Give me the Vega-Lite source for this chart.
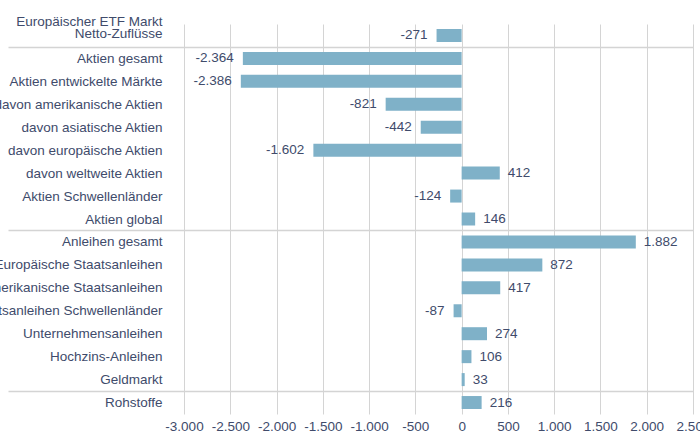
{
  "$schema": "https://vega.github.io/schema/vega-lite/v6.json",
  "width": 509,
  "height": 390,
  "autosize": {"type": "none"},
  "padding": {"left": 184, "top": 24, "right": 7, "bottom": 18},
  "data": {
    "values": [
      {"kategorie": "Europäischer ETF Markt Netto-Zuflüsse", "wert": -271},
      {"kategorie": "Aktien gesamt", "wert": -2364},
      {"kategorie": "Aktien entwickelte Märkte", "wert": -2386},
      {"kategorie": "davon amerikanische Aktien", "wert": -821},
      {"kategorie": "davon asiatische Aktien", "wert": -442},
      {"kategorie": "davon europäische Aktien", "wert": -1602},
      {"kategorie": "davon weltweite Aktien", "wert": 412},
      {"kategorie": "Aktien Schwellenländer", "wert": -124},
      {"kategorie": "Aktien global", "wert": 146},
      {"kategorie": "Anleihen gesamt", "wert": 1882},
      {"kategorie": "Europäische Staatsanleihen", "wert": 872},
      {"kategorie": "Amerikanische Staatsanleihen", "wert": 417},
      {"kategorie": "Staatsanleihen Schwellenländer", "wert": -87},
      {"kategorie": "Unternehmensanleihen", "wert": 274},
      {"kategorie": "Hochzins-Anleihen", "wert": 106},
      {"kategorie": "Geldmarkt", "wert": 33},
      {"kategorie": "Rohstoffe", "wert": 216}
    ]
  },
  "encoding": {
    "y": {
      "field": "kategorie",
      "type": "nominal",
      "sort": null,
      "scale": {"paddingInner": 0, "paddingOuter": 0},
      "axis": {
        "title": null,
        "domain": false,
        "ticks": true,
        "tickBand": "extent",
        "tickSize": 176,
        "tickColor": "#d4d4d4",
        "tickWidth": 1.5,
        "tickOpacity": {"condition": {"test": "indexof(['Europäischer ETF Markt Netto-Zuflüsse','Aktien global','Geldmarkt'], datum.value) >= 0", "value": 1}, "value": 0},
        "grid": true,
        "gridColor": "#d4d4d4",
        "gridWidth": 1.5,
        "gridOpacity": {"condition": {"test": "indexof(['Europäischer ETF Markt Netto-Zuflüsse','Aktien global','Geldmarkt'], datum.value) >= 0", "value": 1}, "value": 0},
        "labelPadding": -154,
        "labelFont": "Liberation Sans",
        "labelFontSize": 13.5,
        "labelColor": "#404b6b",
        "labelLimit": 400,
        "labelOverlap": false,
        "labelLineHeight": 12.5,
        "labelOffset": {"condition": {"test": "datum.value === 'Europäischer ETF Markt Netto-Zuflüsse'", "value": -14}, "value": 0},
        "labelExpr": "datum.value === 'Europäischer ETF Markt Netto-Zuflüsse' ? ['Europäischer ETF Markt', 'Netto-Zuflüsse'] : datum.label"
      }
    }
  },
  "layer": [
    {
      "mark": {"type": "bar", "color": "#7fb1c8", "size": 13},
      "encoding": {
        "x": {
          "field": "wert",
          "type": "quantitative",
          "scale": {"domain": [-3000, 2500], "nice": false},
          "axis": {
            "title": null,
            "values": [-3000, -2500, -2000, -1500, -1000, -500, 0, 500, 1000, 1500, 2000, 2500],
            "format": ",d",
            "domain": false,
            "ticks": false,
            "grid": true,
            "gridColor": "#d4d4d4",
            "gridWidth": 1,
            "labelPadding": 5,
            "labelFont": "Liberation Sans",
            "labelFontSize": 13.5,
            "labelColor": "#404b6b",
            "labelFlush": false,
            "labelOverlap": false
          }
        }
      }
    },
    {
      "mark": {"type": "rule", "color": "#8c8c8c", "strokeWidth": 2},
      "encoding": {"x": {"datum": 0, "type": "quantitative"}}
    },
    {
      "transform": [{"filter": "datum.wert < 0"}],
      "mark": {"type": "text", "align": "right", "baseline": "middle", "dx": -9, "font": "Liberation Sans", "fontSize": 13.5, "color": "#404b6b"},
      "encoding": {
        "x": {"field": "wert", "type": "quantitative"},
        "text": {"field": "wert", "type": "quantitative", "format": ",d"}
      }
    },
    {
      "transform": [{"filter": "datum.wert >= 0"}],
      "mark": {"type": "text", "align": "left", "baseline": "middle", "dx": 8, "font": "Liberation Sans", "fontSize": 13.5, "color": "#404b6b"},
      "encoding": {
        "x": {"field": "wert", "type": "quantitative"},
        "text": {"field": "wert", "type": "quantitative", "format": ",d"}
      }
    }
  ],
  "config": {
    "view": {"stroke": null},
    "background": "white",
    "locale": {
      "number": {"decimal": ",", "thousands": ".", "grouping": [3], "currency": ["", " €"], "minus": "-"}
    }
  }
}
